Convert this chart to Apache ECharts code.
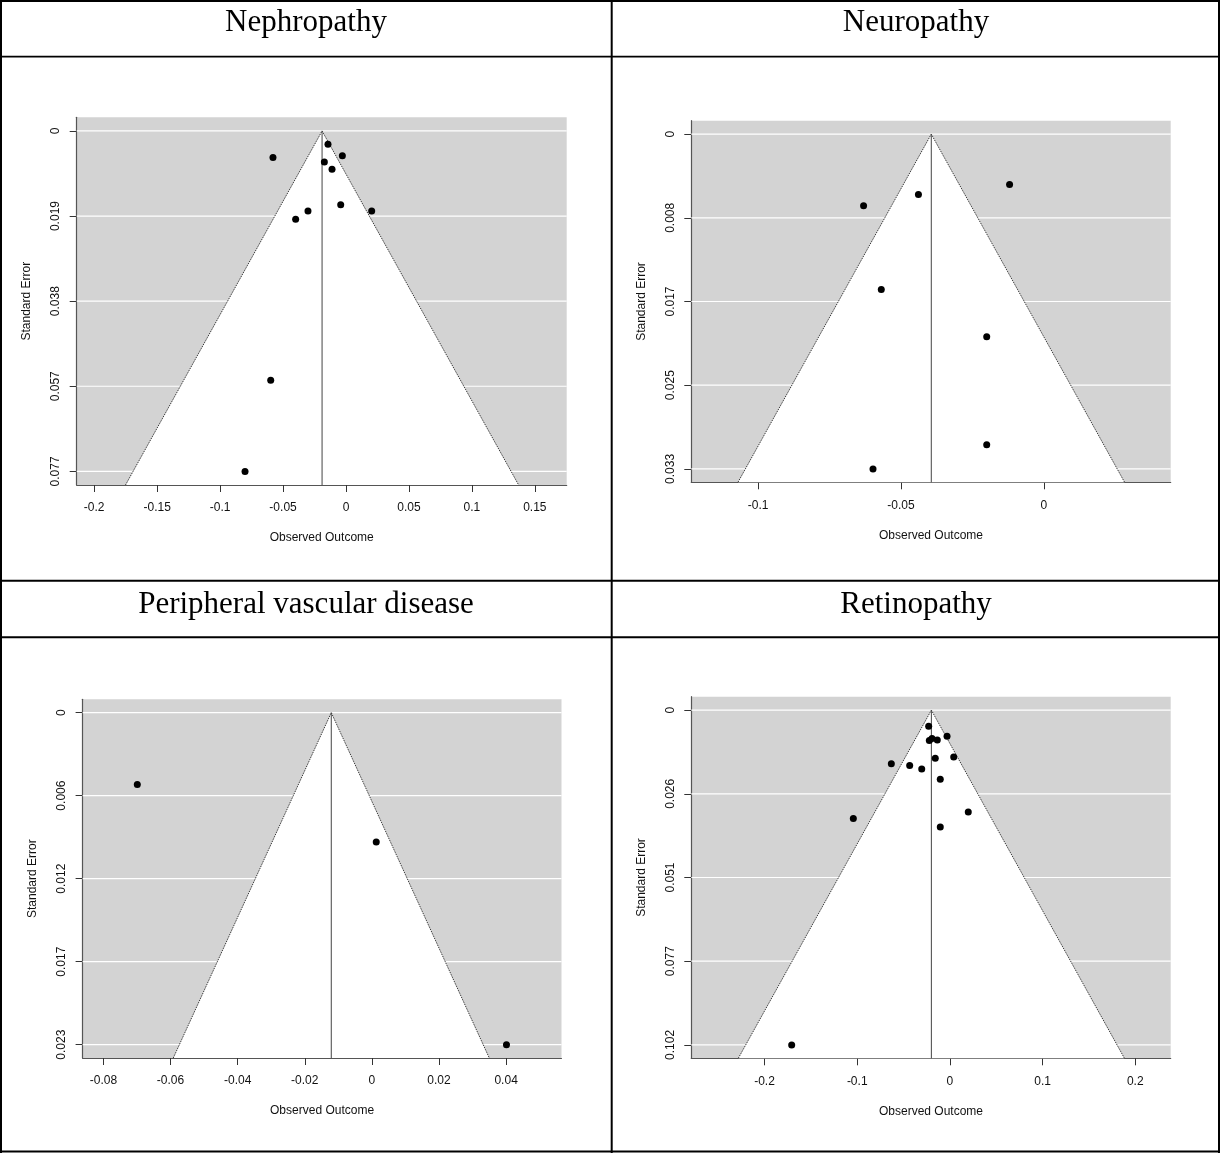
<!DOCTYPE html>
<html>
<head>
<meta charset="utf-8">
<title>Funnel plots</title>
<script src="https://cdn.jsdelivr.net/npm/echarts@6/dist/echarts.min.js"></script>
<style>
  html, body { margin: 0; padding: 0; background: #fff; }
  #chart { width: 1220px; height: 1153px; }
</style>
</head>
<body>
<div id="chart"></div>
<script>
// ---- Data ---------------------------------------------------------------
const panelTitles = ['Nephropathy', 'Neuropathy', 'Peripheral vascular disease', 'Retinopathy'];

// Observed outcome and standard error for each study
const nephroOutcome = [-0.0580, -0.0143, -0.0029, -0.0172, -0.0111, -0.0042, 0.0204, -0.0302, -0.0400, -0.0598, -0.0802];
const nephroSE      = [0.0060, 0.0030, 0.0056, 0.0070, 0.0086, 0.0166, 0.0180, 0.0180, 0.0199, 0.0561, 0.0766];

const neuroOutcome = [-0.0120, -0.0439, -0.0631, -0.0569, -0.0200, -0.0200, -0.0598];
const neuroSE      = [0.0050, 0.0060, 0.0071, 0.0154, 0.0201, 0.0308, 0.0332];

const pvdOutcome = [-0.0699, 0.0013, 0.0401];
const pvdSE      = [0.0050, 0.0090, 0.0231];

const retinoOutcome = [-0.0229, -0.0031, -0.0222, -0.0193, -0.0136, 0.0041, -0.0158, -0.0632, -0.0434, -0.0304, -0.0104, 0.0198, -0.0104, -0.1042, -0.1707];
const retinoSE      = [0.0049, 0.0080, 0.0093, 0.0087, 0.0091, 0.0143, 0.0147, 0.0164, 0.0169, 0.0180, 0.0211, 0.0311, 0.0357, 0.0331, 0.1022];

// Pooled estimate (reference line / funnel apex) and largest SE per panel
const pooledEstimate = [-0.0190, -0.0394, -0.0121, -0.0200];
const maxSE          = [0.0766, 0.0332, 0.0231, 0.1022];

// Tick labels
const xTicksNephro = [-0.2, -0.15, -0.1, -0.05, 0, 0.05, 0.1, 0.15];
const xTicksNeuro  = [-0.1, -0.05, 0];
const xTicksPvd    = [-0.08, -0.06, -0.04, -0.02, 0, 0.02, 0.04];
const xTicksRetino = [-0.2, -0.1, 0, 0.1, 0.2];

const seLabelsNephro = ['0', '0.019', '0.038', '0.057', '0.077'];
const seLabelsNeuro  = ['0', '0.008', '0.017', '0.025', '0.033'];
const seLabelsPvd    = ['0', '0.006', '0.012', '0.017', '0.023'];
const seLabelsRetino = ['0', '0.026', '0.051', '0.077', '0.102'];

// ---- Layout -------------------------------------------------------------
const panels = [
  { outcome: nephroOutcome, se: nephroSE, xTicks: xTicksNephro, seLabels: seLabelsNephro,
    grid: { left: 76.7, top: 117.3, width: 490, height: 367.7 }, xRange: [-0.2139, 0.1753] },
  { outcome: neuroOutcome, se: neuroSE, xTicks: xTicksNeuro, seLabels: seLabelsNeuro,
    grid: { left: 691.3, top: 120.7, width: 479.4, height: 361.6 }, xRange: [-0.1234, 0.0444] },
  { outcome: pvdOutcome, se: pvdSE, xTicks: xTicksPvd, seLabels: seLabelsPvd,
    grid: { left: 82.6, top: 699.3, width: 478.9, height: 358.7 }, xRange: [-0.0862, 0.0565] },
  { outcome: retinoOutcome, se: retinoSE, xTicks: xTicksRetino, seLabels: seLabelsRetino,
    grid: { left: 691.3, top: 696.7, width: 479.4, height: 361.6 }, xRange: [-0.2790, 0.2382] }
];

const SANS = '"Liberation Sans", Arial, sans-serif';
const SERIF = '"Liberation Serif", "Times New Roman", serif';
const PANEL_BG = '#d3d3d3';

const grids = [], xAxes = [], yAxes = [], series = [];

panels.forEach((p, i) => {
  const M = maxSE[i];
  const est = pooledEstimate[i];
  const seTicks = p.seLabels.map((_, k) => M * k / 4);
  const yMin = -0.04 * M, yMax = 1.04 * M;

  grids.push(Object.assign({
    show: true, backgroundColor: PANEL_BG, borderWidth: 0, containLabel: false, outerBoundsMode: 'none'
  }, p.grid));

  xAxes.push({
    gridIndex: i, type: 'value', min: p.xRange[0], max: p.xRange[1],
    axisLine: { show: true, onZero: false, lineStyle: { color: '#555', width: 1.2 } },
    axisTick: { show: true, length: 7, customValues: p.xTicks, lineStyle: { color: '#333', width: 1 } },
    axisLabel: { customValues: p.xTicks, margin: 17, fontSize: 12, color: '#111', fontFamily: SANS,
      formatter: v => String(+v.toFixed(4)) },
    splitLine: { show: false },
    name: 'Observed Outcome', nameLocation: 'middle', nameGap: 47,
    nameTextStyle: { fontSize: 12, color: '#111', fontFamily: SANS }
  });

  yAxes.push({
    gridIndex: i, type: 'value', inverse: true, min: yMin, max: yMax,
    axisLine: { show: true, onZero: false, lineStyle: { color: '#555', width: 1.2 } },
    axisTick: { show: true, length: 7, customValues: seTicks, lineStyle: { color: '#333', width: 1 } },
    axisLabel: { customValues: seTicks, rotate: 90, margin: 15, fontSize: 12, color: '#111', fontFamily: SANS,
      formatter: v => p.seLabels[Math.round(v / M * 4)] },
    splitLine: { show: false },
    name: 'Standard Error', nameLocation: 'middle', nameGap: 44,
    nameTextStyle: { fontSize: 12, color: '#111', fontFamily: SANS }
  });

  // horizontal white reference lines at the SE ticks
  series.push({
    type: 'custom', xAxisIndex: i, yAxisIndex: i, silent: true, z: 1,
    data: seTicks.map(v => [p.xRange[0], v]),
    renderItem(params, api) {
      const cs = params.coordSys;
      const y = api.coord([p.xRange[0], api.value(1)])[1];
      return { type: 'line', shape: { x1: cs.x, y1: y, x2: cs.x + cs.width, y2: y },
        style: { stroke: '#ffffff', lineWidth: 1.2 } };
    }
  });

  // pseudo confidence region (funnel) with the reference line at the pooled estimate
  series.push({
    type: 'custom', xAxisIndex: i, yAxisIndex: i, silent: true, z: 2,
    data: [[est, 0]],
    renderItem(params, api) {
      const apex = api.coord([est, 0]);
      const bl = api.coord([est - 1.96 * yMax, yMax]);
      const br = api.coord([est + 1.96 * yMax, yMax]);
      return { type: 'group', children: [
        { type: 'polygon', shape: { points: [apex, bl, br] }, style: { fill: '#ffffff' } },
        { type: 'polyline', shape: { points: [bl, apex, br] },
          style: { stroke: '#3a3a3a', lineWidth: 1, lineDash: [1.5, 1], fill: null } },
        { type: 'line', shape: { x1: apex[0], y1: apex[1], x2: apex[0], y2: bl[1] },
          style: { stroke: '#444', lineWidth: 1 } }
      ] };
    }
  });

  // individual studies
  series.push({
    type: 'scatter', xAxisIndex: i, yAxisIndex: i, z: 3, silent: true,
    symbol: 'circle', symbolSize: 7, itemStyle: { color: '#000', opacity: 1 },
    data: p.outcome.map((x, k) => [x, p.se[k]])
  });
});

// ---- Surrounding table ---------------------------------------------------
const RULE = '#000';
const rules = [
  { x: 0, y: 0, width: 1220, height: 2 },
  { x: 0, y: 0, width: 2, height: 1153 },
  { x: 1218, y: 0, width: 2, height: 1153 },
  { x: 0, y: 1150.5, width: 1220, height: 2 },
  { x: 610.7, y: 0, width: 2, height: 1153 },
  { x: 0, y: 55.7, width: 1220, height: 1.8 },
  { x: 0, y: 579.7, width: 1220, height: 2 },
  { x: 0, y: 636.3, width: 1220, height: 2 }
].map(r => ({ type: 'rect', shape: r, style: { fill: RULE }, silent: true, z: 10 }));

const titleCenters = [[306, 23], [916, 23], [306, 604.5], [916, 604.5]];
const titles = panelTitles.map((t, i) => ({
  type: 'text', silent: true, z: 10,
  style: { text: t, x: titleCenters[i][0], y: titleCenters[i][1], font: '31px ' + SERIF,
    fill: '#000', align: 'center', verticalAlign: 'middle', textAlign: 'center', textVerticalAlign: 'middle' }
}));

const chart = echarts.init(document.getElementById('chart'), null, { renderer: 'canvas' });
chart.setOption({
  animation: false,
  backgroundColor: '#fff',
  grid: grids,
  xAxis: xAxes,
  yAxis: yAxes,
  series: series,
  graphic: { elements: rules.concat(titles) }
});
</script>
</body>
</html>
